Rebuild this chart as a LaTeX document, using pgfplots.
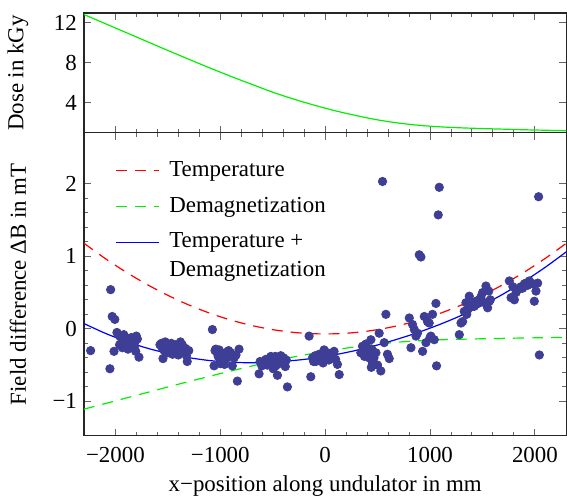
\documentclass[border=0pt]{standalone}
\usepackage{fontspec}
\setmainfont{Liberation Serif}
\usepackage{pgfplots}
\pgfplotsset{compat=1.18}
\usepackage{pgfplotstable}

\definecolor{dotcol}{RGB}{62,62,150}
\definecolor{lgreen}{RGB}{0,240,0}

% x, dose, temperature part, demagnetization part, sum
\pgfplotstableread{
x     dose   temp    demag   total
-2300 12.85  1.180  -1.107   0.073
-2100 11.95  0.972  -1.031  -0.059
-1900 11.05  0.783  -0.954  -0.171
-1700 10.15  0.613  -0.878  -0.265
-1500  9.25  0.462  -0.801  -0.339
-1300  8.37  0.329  -0.726  -0.397
-1100  7.50  0.216  -0.653  -0.437
-900   6.66  0.121  -0.581  -0.460
-700   5.86  0.046  -0.513  -0.467
-500   5.07 -0.011  -0.446  -0.457
-300   4.38 -0.049  -0.387  -0.436
-100   3.76 -0.068  -0.335  -0.403
100    3.20 -0.068  -0.287  -0.355
300    2.72 -0.049  -0.246  -0.295
500    2.30 -0.011  -0.211  -0.222
700    1.98  0.046  -0.183  -0.137
900    1.75  0.121  -0.164  -0.043
1100   1.60  0.216  -0.151   0.065
1300   1.50  0.329  -0.143   0.186
1500   1.43  0.462  -0.137   0.325
1700   1.37  0.613  -0.131   0.482
1900   1.31  0.783  -0.126   0.657
2100   1.26  0.972  -0.122   0.850
2300   1.21  1.180  -0.118   1.062
}\curves

\pgfplotstableread{
x dB
-2236 -0.30
-2052 -0.55
-2045 0.54
-2030 0.17
-2005 0.13
-2013 -0.31
-1985 -0.05
-1960 -0.10
-1960 -0.22
-1940 -0.18
-1934 -0.26
-1920 -0.08
-1911 -0.12
-1896 -0.19
-1880 -0.28
-1870 -0.14
-1860 -0.22
-1848 -0.12
-1835 -0.17
-1820 -0.25
-1816 -0.19
-1806 -0.31
-1800 -0.10
-1790 -0.14
-1775 -0.39
-1575 -0.22
-1562 -0.20
-1555 -0.26
-1546 -0.41
-1535 -0.30
-1525 -0.18
-1514 -0.24
-1500 -0.33
-1490 -0.22
-1480 -0.28
-1467 -0.20
-1455 -0.35
-1445 -0.26
-1434 -0.29
-1425 -0.22
-1410 -0.31
-1400 -0.36
-1393 -0.24
-1380 -0.18
-1362 -0.22
-1345 -0.31
-1330 -0.27
-1323 -0.37
-1315 -0.45
-1300 -0.30
-1075 -0.01
-1059 -0.51
-1050 -0.30
-1043 -0.28
-1030 -0.33
-1020 -0.38
-1011 -0.29
-1000 -0.42
-1000 -0.48
-990 -0.36
-980 -0.38
-965 -0.44
-960 -0.49
-955 -0.33
-948 -0.35
-935 -0.40
-920 -0.30
-900 -0.33
-885 -0.51
-875 -0.38
-868 -0.40
-850 -0.36
-837 -0.72
-821 -0.28
-630 -0.62
-620 -0.45
-604 -0.51
-590 -0.48
-582 -0.47
-565 -0.42
-550 -0.50
-540 -0.45
-518 -0.38
-503 -0.45
-495 -0.55
-487 -0.47
-475 -0.38
-470 -0.51
-455 -0.64
-440 -0.44
-423 -0.37
-410 -0.48
-407 -0.45
-395 -0.40
-380 -0.52
-370 -0.43
-360 -0.80
-153 -0.10
-137 -0.66
-121 -0.40
-110 -0.45
-95 -0.37
-89 -0.45
-75 -0.40
-57 -0.35
-45 -0.42
-30 -0.38
-20 -0.47
-10 -0.29
0 -0.40
10 -0.35
22 -0.33
35 -0.43
50 -0.36
70 -0.38
85 -0.31
100 -0.42
117 -0.49
134 -0.63
340 -0.33
356 -0.24
365 -0.28
375 -0.38
388 -0.21
400 -0.36
410 -0.30
420 -0.40
436 -0.15
440 -0.53
445 -0.28
451 -0.47
465 -0.40
484 -0.33
500 -0.50
515 -0.06
531 -0.58
547 2.03
563 -0.19
579 0.20
594 -0.35
611 -0.41
802 0.15
818 -0.26
833 0.06
850 -0.01
866 -0.10
880 -0.06
897 1.02
913 0.99
929 -0.31
945 0.17
961 -0.19
976 0.10
992 0.08
1000 -0.12
1008 -0.10
1024 0.20
1040 -0.15
1056 0.35
1062 -0.51
1078 1.57
1088 1.95
1279 -0.08
1295 0.08
1311 0.10
1326 0.24
1342 0.36
1350 0.20
1358 0.26
1374 0.45
1385 0.30
1400 0.34
1422 0.31
1438 0.38
1450 0.35
1469 0.40
1485 0.44
1501 0.50
1520 0.36
1533 0.59
1549 0.29
1560 0.52
1565 0.38
1575 0.40
1756 0.66
1772 0.43
1790 0.58
1804 0.40
1820 0.50
1835 0.54
1851 0.55
1867 0.58
1883 0.56
1900 0.62
1915 0.63
1931 0.60
1947 0.66
1963 0.63
1980 0.62
1994 0.38
2010 0.52
2026 0.63
2035 1.82
2042 -0.36
}\meas

\pgfplotsset{
  mma/.style={
    scale only axis, width=241.5bp,
    xmin=-2300, xmax=2300,
    axis line style={line width=0.6bp, black!85},
    tick style={line width=0.5bp, black!60},
    major tick length=3.5bp, minor tick length=2bp,
    tick align=inside, xtick pos=both, ytick pos=both,
    xtick={-2000,-1000,0,1000,2000}, minor x tick num=4,
    every tick label/.append style={font=\fontsize{11.5}{13}\selectfont},
    label style={font=\fontsize{11.5}{13}\selectfont},
    ylabel style={at={(axis description cs:-0.137,0.5)}, anchor=center, rotate=0},
    clip=true,
  },
}

\begin{document}
\begin{tikzpicture}
\begin{axis}[mma, name=lower,
  height=151.5bp,
  ymin=-1.47, ymax=2.70,
  ytick={-1,0,1,2}, yticklabels={−1,0,1,2},
  minor y tick num=4,
  xticklabels={−2000,−1000,0,1000,2000},
  xticklabel style={yshift=-2.5bp},
  xlabel={x−position along undulator in mm},
  xlabel style={at={(axis description cs:0.5,-0.185)}, anchor=base},
  ylabel={Field difference ΔB in mT},
  legend style={draw=none, fill=none, inner sep=0pt,
    at={(axis description cs:0.064,0.918)}, anchor=north west,
    font=\fontsize{11.5}{13}\selectfont,
    nodes={inner sep=1bp, text height=8bp, text depth=2.5bp},
    row sep=5.5bp, column sep=4bp},
  legend cell align=left,
  legend image code/.code={\draw[#1] (0bp,0bp) -- (21.5bp,0bp);},
]
\addplot[only marks, mark=*, mark size=2.1bp, color=dotcol, forget plot]
  table[x=x, y=dB]{\meas};
\addplot[draw=red, line width=0.6bp, dash pattern=on 5.5bp off 4bp, smooth]
  table[x=x, y=temp]{\curves};
\addlegendentry{Temperature}
\addplot[draw=lgreen, line width=0.6bp, dash pattern=on 5.5bp off 4bp, smooth]
  table[x=x, y=demag]{\curves};
\addlegendentry{Demagnetization}
\addplot[draw=blue, line width=0.6bp, smooth]
  table[x=x, y=total]{\curves};
\addlegendentry{Temperature +}
\addlegendimage{empty legend}
\addlegendentry{\raisebox{3.5bp}[\height][\depth]{Demagnetization}}
\end{axis}

\begin{axis}[mma, name=upper,
  at={(0,151.5bp)},
  height=60bp,
  ymin=1, ymax=13,
  ytick={4,8,12}, yticklabels={4,8,12},
  xticklabels={},
  ylabel={Dose in kGy},
]
\addplot[draw=lgreen, line width=0.6bp, smooth] table[x=x, y=dose]{\curves};
\end{axis}

\pgfresetboundingbox
\path[use as bounding box] ([xshift=-42bp,yshift=-30.5bp]lower.south west)
  rectangle ([xshift=0.3bp,yshift=218bp]lower.south east);
\end{tikzpicture}
\end{document}
